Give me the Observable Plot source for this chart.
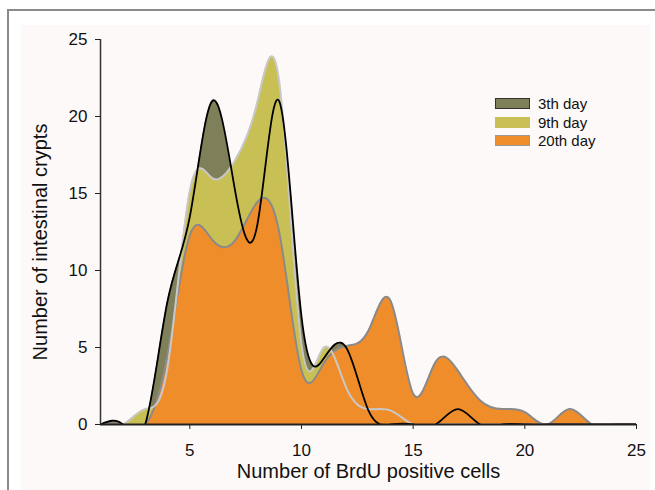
<!DOCTYPE html>
<html><head><meta charset="utf-8">
<script src="https://cdn.jsdelivr.net/npm/d3@7"></script>
<script src="https://cdn.jsdelivr.net/npm/@observablehq/plot@0.6"></script>
<style>
body{margin:0;background:#fff;font-family:"Liberation Sans",Arial,sans-serif;}
#wrap{position:relative;width:655px;height:490px;overflow:hidden;}
#frame{position:absolute;left:7px;top:9px;width:660px;height:500px;border-left:2px solid #8a8a8a;border-top:2px solid #8a8a8a;}
#bg{position:absolute;left:21px;top:25px;width:629px;height:465px;background:#fdf9f8;}
#chart{position:absolute;left:0;top:0;}
#legend{position:absolute;left:495px;top:94px;font-size:15px;color:#111;}
.row{display:flex;align-items:center;height:18.7px;}
.sw{width:33px;height:9px;margin-right:8px;}
</style></head>
<body>
<div id="wrap"><div id="frame"></div><div id="bg"></div><div id="chart"></div><div id="legend"></div></div>
<script>
const cells = [1,2,3,4,5,6,7,8,9,10,11,12,13,14,15,16,17,18,19,20,21,22,23,24,25];
const day3  = [0,0,0,8,13.5,21,15.4,12.8,21,7,4.3,5,0.9,0,0,0,1,0,0,0,0,0,0,0,0];
const day9  = [0,0,1,3.7,15.2,16,17.1,20.8,22.3,5.2,5,2.4,1,0.9,0,0,0,0,0,0,0,0,0,0,0];
const day20 = [0,0,0,4.5,12.3,12,11.9,14.4,12.5,3.5,4,5.1,6.1,8,2,4.05,3.5,1.56,1,0.8,0,1,0,0,0];
const seriesNames = ["3th day","9th day","20th day"];
const fills = ["#7f7f5a","#c9c055","#f08d2b"];
const strokes = ["#000000","#c8c8c8","#8a8a8a"];
const xTicks = [5,10,15,20,25];
const yTicks = [0,5,10,15,20,25];
const xLabel = "Number of BrdU positive cells";
const yLabel = "Number of intestinal crypts";

const rows = (vals) => cells.map((c,i) => ({x:c, y:vals[i]}));
const sets = [rows(day3), rows(day9), rows(day20)];

const marks = [];
sets.forEach((s,i) => marks.push(Plot.areaY(s,{x:"x",y:"y",fill:fills[i],curve:"natural",clip:true})));
[2,1,0].forEach(i => marks.push(Plot.lineY(sets[i],{x:"x",y:"y",stroke:strokes[i],strokeWidth:i===0?1.8:2,curve:"natural",clip:true})));
marks.push(Plot.ruleY([0],{stroke:"#222",strokeWidth:2}));
marks.push(Plot.ruleX([1],{stroke:"#333",strokeWidth:1.5}));
marks.push(Plot.axisX(xTicks,{tickSize:5,tickPadding:14,label:null,fontSize:17,stroke:"#222"}));
marks.push(Plot.axisY(yTicks,{tickSize:5,tickPadding:8,label:null,fontSize:17,stroke:"#222"}));
marks.push(Plot.text([xLabel],{text:d=>d,frameAnchor:"bottom",textAnchor:"middle",dy:47,fontSize:20,lineAnchor:"middle",fill:"#111"}));
marks.push(Plot.text([yLabel],{text:d=>d,frameAnchor:"left",textAnchor:"middle",rotate:-90,dx:-60,dy:10,fontSize:20,lineAnchor:"middle",fill:"#111"}));

const chart = Plot.plot({
  width:655, height:490,
  marginLeft:100, marginRight:19, marginTop:39, marginBottom:66,
  x:{domain:[1,25]}, y:{domain:[0,25]},
  style:{fontFamily:"Liberation Sans, Arial, sans-serif",fontSize:"17px",background:"transparent",color:"#111",overflow:"visible"},
  marks
});
document.getElementById("chart").appendChild(chart);

const leg = document.getElementById("legend");
const borders = ["#333","#c9c055","#999"];
seriesNames.forEach((n,i) => {
  const r = document.createElement("div"); r.className="row";
  const sw = document.createElement("div"); sw.className="sw";
  sw.style.background = fills[i]; sw.style.border = "1px solid " + borders[i];
  const t = document.createElement("span"); t.textContent = n;
  r.appendChild(sw); r.appendChild(t); leg.appendChild(r);
});
</script>
</body></html>
